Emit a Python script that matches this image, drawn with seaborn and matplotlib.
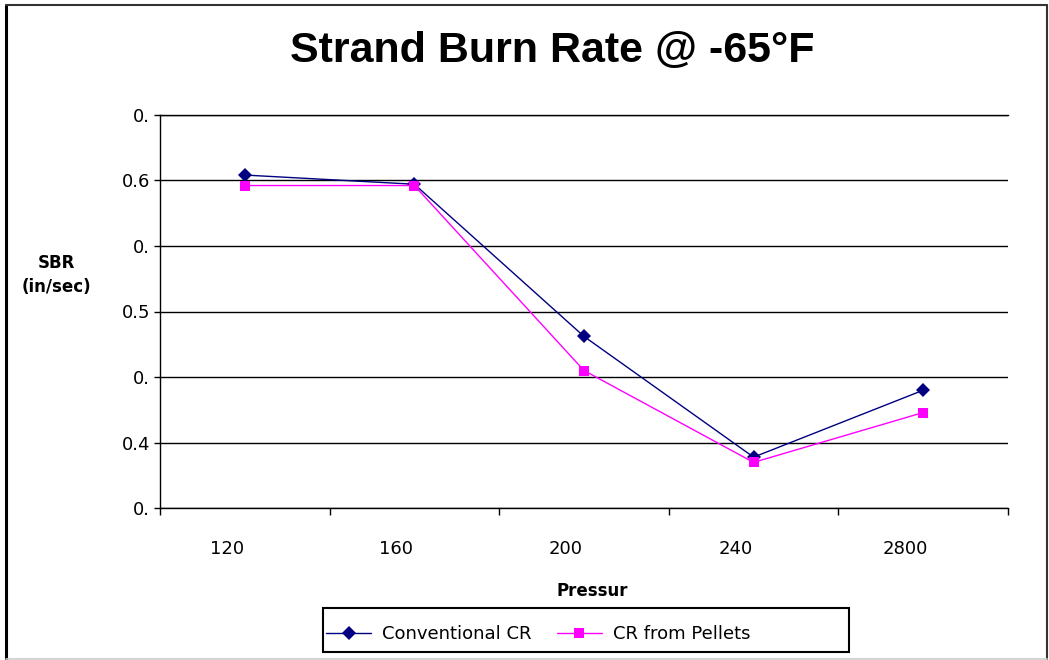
import matplotlib
matplotlib.use("Agg")
import matplotlib.pyplot as plt
import matplotlib.transforms as mtransforms
from matplotlib.lines import Line2D
from matplotlib.patches import Rectangle
import numpy as np
import pandas as pd
import seaborn as sns

# Strand burn rate data at -65°F
pressures = ["120", "160", "200", "240", "2800"]
conventional_cr = [0.604, 0.597, 0.481, 0.389, 0.440]
cr_from_pellets = [0.596, 0.596, 0.455, 0.385, 0.423]
series_names = ["Conventional CR", "CR from Pellets"]
y_ticks = [0.35, 0.40, 0.45, 0.50, 0.55, 0.60, 0.65]
y_tick_labels = ["0.", "0.4", "0.", "0.5", "0.", "0.6", "0."]

colors = {"Conventional CR": "#000080", "CR from Pellets": "#FF00FF"}
markers = {"Conventional CR": "D", "CR from Pellets": "s"}

df = pd.DataFrame({
    "Pressure": pressures * 2,
    "SBR": conventional_cr + cr_from_pellets,
    "Series": [series_names[0]] * len(pressures) + [series_names[1]] * len(pressures),
})

sns.set_theme(style="white")
plt.rcParams["font.family"] = ["DejaVu Sans"]
plt.rcParams["text.color"] = "black"
plt.rcParams["xtick.color"] = "black"
plt.rcParams["ytick.color"] = "black"
plt.rcParams["xtick.labelcolor"] = "black"
plt.rcParams["ytick.labelcolor"] = "black"

W, H = 1049, 660
fig = plt.figure(figsize=(W / 100, H / 100), dpi=100)
fig.patch.set_facecolor("white")
ax = fig.add_axes([160 / W, 1 - 508.3 / H, 848 / W, 393.6 / H])

sns.lineplot(
    data=df, x="Pressure", y="SBR", hue="Series", style="Series",
    hue_order=series_names, style_order=series_names,
    palette=colors, markers=markers, dashes=False, sort=False,
    markersize=7, linewidth=1, markeredgewidth=0, legend=False, ax=ax,
)

# axes styling
ax.set_xlim(-0.5, len(pressures) - 0.5)
ax.set_ylim(0.35, 0.65)
ax.set_yticks(y_ticks)
ax.set_yticklabels(y_tick_labels, fontsize=13)
ax.set_xticks(np.arange(-0.5, len(pressures), 1.0))
ax.set_xticklabels([""] * (len(pressures) + 1))
ax.set_xticks(np.arange(len(pressures)), minor=True)
ax.set_xticklabels(pressures, minor=True, fontsize=13)
ax.tick_params(axis="x", which="major", direction="out", length=5, width=1, color="black", bottom=True)
ax.tick_params(axis="x", which="minor", length=0, pad=23)
ax.tick_params(axis="y", direction="out", length=4, width=1, color="black", left=True, pad=3)
offset = mtransforms.ScaledTranslation(-18 / 100, 0, fig.dpi_scale_trans)
for lbl in ax.get_xticklabels(minor=True):
    lbl.set_transform(lbl.get_transform() + offset)

ax.set_xlabel("")
ax.set_ylabel("")
ax.yaxis.grid(True, color="black", linewidth=1)
ax.xaxis.grid(False)
for side in ["left", "bottom", "top"]:
    ax.spines[side].set_visible(True)
    ax.spines[side].set_color("black")
    ax.spines[side].set_linewidth(1)
ax.spines["right"].set_visible(False)

# texts
fig.text(552 / W, 1 - 51 / H, "Strand Burn Rate @ -65°F", ha="center", va="center",
         fontsize=31, fontweight="bold", family=["Liberation Sans", "DejaVu Sans"])
fig.text(56 / W, 1 - 275 / H, "SBR\n(in/sec)", ha="center", va="center",
         fontsize=12, fontweight="bold", linespacing=1.45)
fig.text(592 / W, 1 - 591 / H, "Pressur", ha="center", va="center",
         fontsize=12, fontweight="bold")

# legend with a separately drawn box
handles = [Line2D([], [], color=colors[s], marker=markers[s], markersize=7,
                  markeredgewidth=0, linewidth=1) for s in series_names]
fig.legend(handles, series_names, loc="center left", bbox_to_anchor=(326 / W, 1 - 634 / H),
           ncol=2, frameon=False, fontsize=13, handlelength=2.5, handletextpad=0.6,
           columnspacing=1.4, borderpad=0, borderaxespad=0)
fig.add_artist(Rectangle((323 / W, 1 - 652 / H), 526 / W, 44 / H, transform=fig.transFigure,
                         fill=False, edgecolor="black", linewidth=1.5))

# chart border
fig.add_artist(Line2D([6 / W, 6 / W], [1 - 5 / H, 1 - 659 / H], color="black", linewidth=2.2))
fig.add_artist(Line2D([6 / W, 1047 / W], [1 - 5 / H, 1 - 5 / H], color="#333333", linewidth=1.5))
fig.add_artist(Line2D([1047 / W, 1047 / W], [1 - 5 / H, 1 - 659 / H], color="#333333", linewidth=1.5))
fig.add_artist(Line2D([6 / W, 1047 / W], [1 - 659 / H, 1 - 659 / H], color="#cccccc", linewidth=1.2))

fig.savefig("out.png", dpi=100, facecolor="white")
